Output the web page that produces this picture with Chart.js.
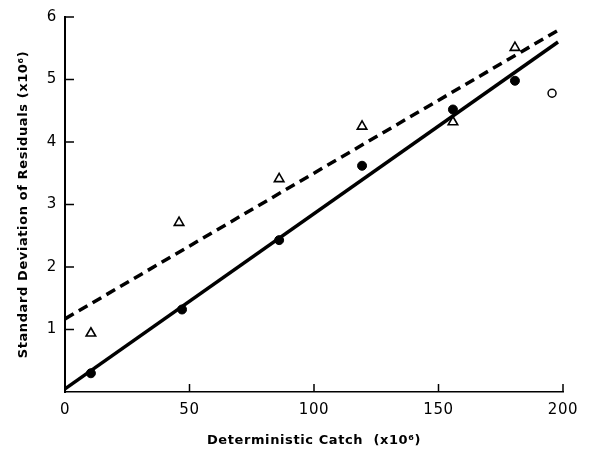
<!DOCTYPE html>
<html>
<head>
<meta charset="utf-8">
<script src="https://cdn.jsdelivr.net/npm/chart.js@4"></script>
<style>
  html, body { margin: 0; padding: 0; background: #fff; }
  #wrap { width: 590px; height: 450px; }
</style>
</head>
<body>
<div id="wrap"><canvas id="chart" width="590" height="450"></canvas></div>
<script>
// deterministic catch (x10^6) vs standard deviation of residuals (x10^6)
const dotCatch = [10.4, 47, 86, 119.3, 155.8, 180.7];
const dotSd = [0.30, 1.32, 2.43, 3.62, 4.52, 4.98];

const triCatch = [10.4, 45.8, 86, 119.3, 155.8, 180.7];
const triSd = [0.94, 2.71, 3.41, 4.25, 4.32, 5.51];

const oddCatch = [195.6];
const oddSd = [4.78];

// fitted lines (end points)
const solidLineX = [0, 198];
const solidLineY = [0.05, 5.6];
const dashLineX = [0, 199];
const dashLineY = [1.17, 5.81];

const xTicks = [0, 50, 100, 150, 200];
const yTicks = [1, 2, 3, 4, 5, 6];

const pts = (xs, ys) => xs.map((x, i) => ({ x: x, y: ys[i] }));

const FONT = "'DejaVu Sans', sans-serif";

// the original lettering is spaced out a bit
const spacedText = {
  id: "spacedText",
  beforeDraw(chart) {
    chart.ctx.letterSpacing = "0.6px";
  }
};

// tick marks point into the plot, so draw them after the axes
const inwardTicks = {
  id: "inwardTicks",
  afterDraw(chart) {
    const { ctx, scales: { x, y } } = chart;
    ctx.save();
    ctx.strokeStyle = "#000";
    ctx.lineWidth = 1.5;
    ctx.beginPath();
    xTicks.forEach(v => {
      const px = x.getPixelForValue(v);
      ctx.moveTo(px, y.bottom);
      ctx.lineTo(px, y.bottom - 8);
    });
    yTicks.forEach(v => {
      const py = y.getPixelForValue(v);
      ctx.moveTo(x.left, py);
      ctx.lineTo(x.left + 9, py);
    });
    ctx.stroke();
    ctx.restore();
  }
};

new Chart(document.getElementById("chart"), {
  type: "scatter",
  data: {
    datasets: [
      {
        type: "line",
        data: pts(solidLineX, solidLineY),
        borderColor: "#000",
        borderWidth: 3.5,
        pointRadius: 0,
        fill: false
      },
      {
        type: "line",
        data: pts(dashLineX, dashLineY),
        borderColor: "#000",
        borderWidth: 3.5,
        borderDash: [10, 6],
        pointRadius: 0,
        fill: false
      },
      {
        data: pts(dotCatch, dotSd),
        pointStyle: "circle",
        pointRadius: 4.5,
        backgroundColor: "#000",
        borderColor: "#000",
        borderWidth: 1
      },
      {
        data: pts(triCatch, triSd),
        pointStyle: "triangle",
        pointRadius: 5.5,
        backgroundColor: "#fff",
        borderColor: "#000",
        borderWidth: 1.6
      },
      {
        data: pts(oddCatch, oddSd),
        pointStyle: "circle",
        pointRadius: 4,
        backgroundColor: "#fff",
        borderColor: "#000",
        borderWidth: 1.5
      },
      {
        data: pts(oddCatch, oddSd),
        pointStyle: "circle",
        pointRadius: 1.3,
        backgroundColor: "#000",
        borderColor: "#000",
        borderWidth: 1
      }
    ]
  },
  options: {
    responsive: false,
    animation: false,
    layout: { padding: { top: 14, right: 27, left: 0, bottom: 0 } },
    plugins: {
      legend: { display: false },
      tooltip: { enabled: false }
    },
    elements: { line: { tension: 0 } },
    datasets: { scatter: { clip: false }, line: { clip: false } },
    scales: {
      x: {
        type: "linear",
        min: 0,
        max: 200,
        afterBuildTicks: s => { s.ticks = xTicks.map(v => ({ value: v })); },
        afterFit: s => { s.height = 58; },
        grid: { display: true, drawOnChartArea: false, drawTicks: false },
        border: { display: true, color: "#000", width: 1.5 },
        ticks: {
          color: "#000",
          padding: 9,
          font: { family: FONT, size: 15 }
        },
        title: {
          display: true,
          text: "Deterministic Catch  (x10⁶)",
          color: "#000",
          font: { family: FONT, size: 13, weight: "bold", lineHeight: 1.2 },
          padding: { top: 0, bottom: 2 }
        }
      },
      y: {
        type: "linear",
        min: 0,
        max: 6,
        afterBuildTicks: s => { s.ticks = yTicks.map(v => ({ value: v })); },
        afterFit: s => { s.width = 65; },
        grid: { display: true, drawOnChartArea: false, drawTicks: false },
        border: { display: true, color: "#000", width: 2 },
        ticks: {
          color: "#000",
          padding: 8,
          font: { family: FONT, size: 15 }
        },
        title: {
          display: true,
          text: "Standard Deviation of Residuals (x10⁶)",
          color: "#000",
          font: { family: FONT, size: 13, weight: "bold", lineHeight: 1.2 },
          padding: { top: 16, bottom: 0 }
        }
      }
    }
  },
  plugins: [spacedText, inwardTicks]
});
</script>
</body>
</html>
